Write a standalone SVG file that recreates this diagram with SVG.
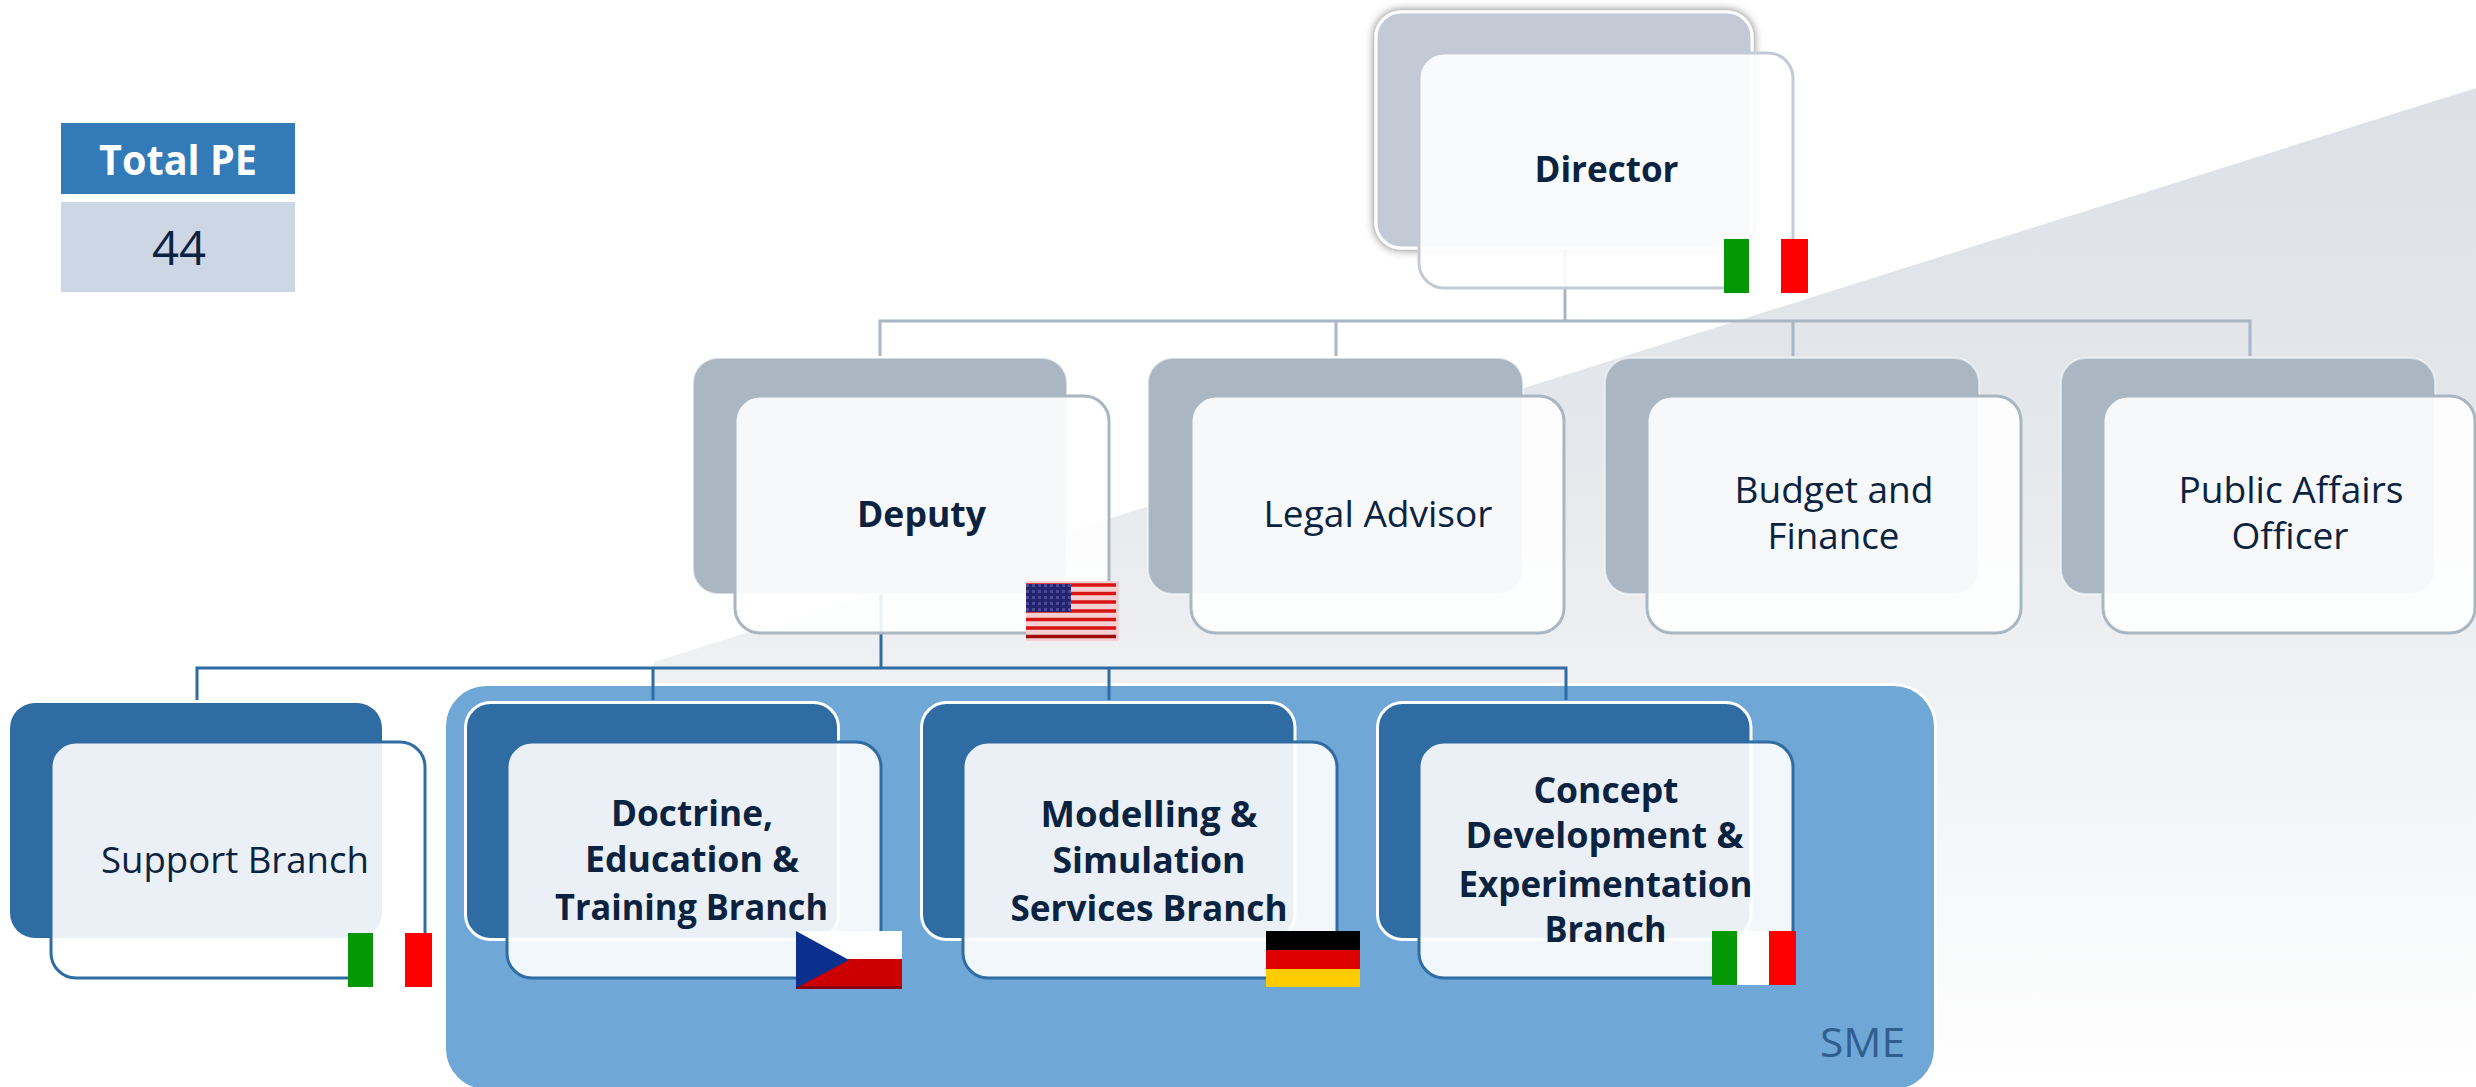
<svg xmlns="http://www.w3.org/2000/svg" xmlns:xlink="http://www.w3.org/1999/xlink" width="2476" height="1087" viewBox="0 0 2476 1087">
<style>
text{font-family:"Open Sans","Noto Sans","Liberation Sans",sans-serif;font-size:36px;fill:#0b2340}
.b{font-weight:700}
.front{fill:#fff;fill-opacity:.9;stroke-width:3}
.back{stroke:#fff;stroke-width:3}
.b1{fill:#c3cad6}.f1{stroke:#c3cad6}
.b2{fill:#aab6c2;stroke:#fff;stroke-opacity:.5;stroke-width:2}.f2{stroke:#aab6c2}
.b3{fill:#2e6ca3}.f3{stroke:#2e6ca3}
.c2{fill:none;stroke:#aab6c4;stroke-width:3}
.c3{fill:none;stroke:#2e6ca3;stroke-width:3}
</style>
<defs>
<linearGradient id="bgGrad" gradientUnits="userSpaceOnUse" x1="0" y1="88" x2="0" y2="1087">
<stop offset="0" stop-color="#dde1e7"/><stop offset=".3" stop-color="#e3e6ea"/><stop offset=".6" stop-color="#eff1f3"/><stop offset="1" stop-color="#fff"/>
</linearGradient>
<filter id="shadow" x="-10%" y="-10%" width="120%" height="120%"><feDropShadow dx="0" dy="0" stdDeviation="5" flood-color="#000" flood-opacity=".55"/></filter>
<pattern id="stars" patternUnits="userSpaceOnUse" x="1026" y="584" width="6" height="6"><rect width="6" height="6" fill="#23236e"/><rect width="3" height="3" fill="#4a4a9a"/></pattern>
<g id="italy"><rect width="25" height="54" fill="#069706"/><rect x="25" width="32" height="54" fill="#fff"/><rect x="57" width="27" height="54" fill="#f00"/></g>
</defs>
<rect width="2476" height="1087" fill="#fff"/>
<polygon id="backdrop" points="2476,88 654,662 654,1087 2476,1087" fill="url(#bgGrad)"/>
<g id="sme"><rect x="444.500" y="684.500" width="1491" height="406" rx="42" fill="#6fa8d6" stroke="#fff" stroke-width="3"/><text x="1820" y="1057" textLength="85" lengthAdjust="spacingAndGlyphs" style="font-size:40px;fill:#2f5f8e">SME</text></g>
<g id="connectors">
<path class="c2" d="M1565 248V321M880 356V321H2250V356M1336 321V356M1793 321V356"/>
<path class="c3" d="M881 593V668M197 700V668H1566V700M653 668V700M1109 668V700"/>
</g>
<g id="total-pe">
<rect x="61" y="123" width="234" height="71" fill="#327ab8"/><rect x="61" y="202" width="234" height="90" fill="#cdd6e5"/>
<text class="b" x="99" y="175" textLength="158" lengthAdjust="spacingAndGlyphs" style="font-size:41px;fill:#fff">Total PE</text>
<text x="152" y="265" textLength="54" lengthAdjust="spacingAndGlyphs" style="font-size:48px">44</text>
</g>
<g id="director">
<rect class="back b1" x="1376" y="12" width="376" height="236" rx="25" filter="url(#shadow)"/><rect class="front f1" x="1419" y="53" width="374" height="235" rx="25"/>
<text class="b" x="1534.500" y="182" textLength="144" lengthAdjust="spacingAndGlyphs">Director</text>
<use href="#italy" x="1724" y="239"/>
</g>
<g id="deputy">
<rect class="b2" x="693" y="358" width="374" height="236" rx="25"/><rect class="front f2" x="735" y="396" width="374" height="237" rx="25"/>
<text class="b" x="857" y="527" textLength="129" lengthAdjust="spacingAndGlyphs">Deputy</text>
<rect x="1026" y="581" width="93" height="60" fill="#f3d0d2"/>
<path d="M1026 585H1116M1026 593.500H1116M1026 602H1116M1026 611H1116M1026 619.500H1116M1026 628H1116" stroke="#d81414" stroke-width="3.500"/><path d="M1026 636.500H1116" stroke="#a00a0a" stroke-width="3.500"/>
<rect x="1026" y="584" width="45" height="28" fill="url(#stars)"/>
</g>
<g id="legal">
<rect class="b2" x="1148" y="358" width="375" height="236" rx="25"/><rect class="front f2" x="1191" y="396" width="373" height="237" rx="25"/>
<text x="1263.500" y="527" textLength="229" lengthAdjust="spacingAndGlyphs">Legal Advisor</text>
</g>
<g id="budget">
<rect class="b2" x="1605" y="358" width="374" height="236" rx="25"/><rect class="front f2" x="1647" y="396" width="374" height="237" rx="25"/>
<text x="1734.500" y="503" textLength="199" lengthAdjust="spacingAndGlyphs">Budget and</text>
<text x="1767.500" y="549" textLength="132" lengthAdjust="spacingAndGlyphs">Finance</text>
</g>
<g id="public-affairs">
<rect class="b2" x="2061" y="358" width="374" height="236" rx="25"/><rect class="front f2" x="2103" y="396" width="372" height="237" rx="25"/>
<text x="2178.500" y="503" textLength="225" lengthAdjust="spacingAndGlyphs">Public Affairs</text>
<text x="2231.500" y="549" textLength="117" lengthAdjust="spacingAndGlyphs">Officer</text>
</g>
<g id="support">
<rect class="b3" x="10" y="703" width="372" height="235" rx="25"/><rect class="front f3" x="51" y="742" width="374" height="236" rx="25"/>
<text x="101" y="873" textLength="268" lengthAdjust="spacingAndGlyphs">Support Branch</text>
<use href="#italy" x="348" y="933"/>
</g>
<g id="doctrine">
<rect class="back b3" x="465.500" y="702.500" width="373" height="237" rx="25"/><rect class="front f3" x="507" y="742" width="374" height="236" rx="25"/>
<text class="b" x="611" y="826" textLength="162" lengthAdjust="spacingAndGlyphs">Doctrine,</text>
<text class="b" x="585" y="872" textLength="214" lengthAdjust="spacingAndGlyphs">Education &amp;</text>
<text class="b" x="555" y="920" textLength="273" lengthAdjust="spacingAndGlyphs">Training Branch</text>
<rect x="796" y="931" width="106" height="28" fill="#fff"/><rect x="796" y="959" width="106" height="27" fill="#cc0000"/><rect x="796" y="986" width="106" height="3" fill="#8a0000"/>
<polygon points="796,931 849,960 796,988" fill="#0a2f8f"/>
</g>
<g id="modelling">
<rect class="back b3" x="921.500" y="702.500" width="373.500" height="237" rx="25"/><rect class="front f3" x="963" y="742" width="374" height="236" rx="25"/>
<text class="b" x="1040.500" y="827" textLength="217" lengthAdjust="spacingAndGlyphs">Modelling &amp;</text>
<text class="b" x="1052.500" y="873" textLength="193" lengthAdjust="spacingAndGlyphs">Simulation</text>
<text class="b" x="1010.500" y="921" textLength="277" lengthAdjust="spacingAndGlyphs">Services Branch</text>
<rect x="1266" y="931" width="94" height="19" fill="#000"/><rect x="1266" y="950" width="94" height="19" fill="#dd0000"/><rect x="1266" y="969" width="94" height="18" fill="#ffcc00"/>
</g>
<g id="concept">
<rect class="back b3" x="1377.500" y="702.500" width="373.500" height="237" rx="25"/><rect class="front f3" x="1419" y="742" width="374" height="236" rx="25"/>
<text class="b" x="1533.500" y="803" textLength="145" lengthAdjust="spacingAndGlyphs">Concept</text>
<text class="b" x="1465.500" y="848" textLength="278" lengthAdjust="spacingAndGlyphs">Development &amp;</text>
<text class="b" x="1458.500" y="897" textLength="294" lengthAdjust="spacingAndGlyphs">Experimentation</text>
<text class="b" x="1544.500" y="942" textLength="122" lengthAdjust="spacingAndGlyphs">Branch</text>
<use href="#italy" x="1712" y="931"/>
</g>
</svg>
